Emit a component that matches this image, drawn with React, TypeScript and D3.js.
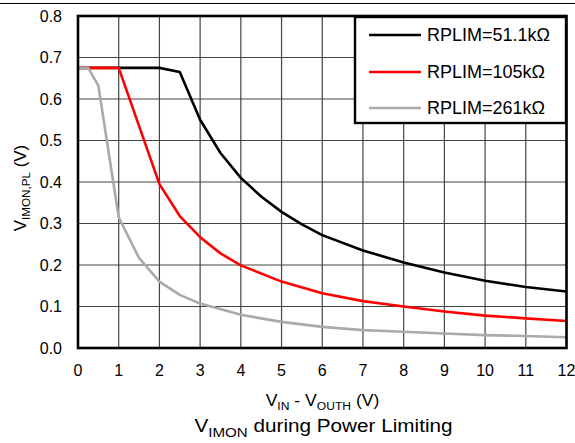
import React from "react";
import * as d3 from "d3";

const xTicks = [0, 1, 2, 3, 4, 5, 6, 7, 8, 9, 10, 11, 12];
const yTicks = [0, 0.1, 0.2, 0.3, 0.4, 0.5, 0.6, 0.7, 0.8];

const blackX = [0, 0.5, 1, 1.5, 2, 2.5, 3, 3.5, 4, 4.5, 5, 5.5, 6, 7, 8, 9, 10, 11, 12];
const blackV = [0.675, 0.675, 0.675, 0.675, 0.675, 0.665, 0.55, 0.47, 0.41, 0.365, 0.328, 0.298, 0.272, 0.235, 0.206, 0.182, 0.162, 0.147, 0.136];

const redX = [0, 0.5, 1, 2, 2.5, 3, 3.5, 4, 5, 6, 7, 8, 9, 10, 11, 12];
const redV = [0.675, 0.675, 0.675, 0.395, 0.318, 0.267, 0.228, 0.199, 0.16, 0.132, 0.113, 0.1, 0.088, 0.078, 0.0715, 0.065];

const grayX = [0, 0.25, 0.5, 1, 1.5, 2, 2.5, 3, 4, 5, 6, 7, 8, 9, 10, 11, 12];
const grayV = [0.675, 0.675, 0.632, 0.315, 0.217, 0.16, 0.128, 0.107, 0.08, 0.063, 0.051, 0.043, 0.039, 0.035, 0.031, 0.029, 0.026];

const seriesNames = ["RPLIM=51.1kΩ", "RPLIM=105kΩ", "RPLIM=261kΩ"];
const seriesColors = ["#000000", "#ff0000", "#aaaaaa"];

export default function App() {
  const W = 575, H = 443;
  const left = 78, right = 566.5, top = 16, bottom = 348;
  const x = d3.scaleLinear().domain([0, 12]).range([left, right]);
  const y = d3.scaleLinear().domain([0, 0.8]).range([bottom, top]);
  const line = d3.line<[number, number]>().x(d => x(d[0])).y(d => y(d[1]));
  const series = [
    blackX.map((v, i) => [v, blackV[i]] as [number, number]),
    redX.map((v, i) => [v, redV[i]] as [number, number]),
    grayX.map((v, i) => [v, grayV[i]] as [number, number]),
  ];
  const font = "'Liberation Sans', Arial, sans-serif";
  const legX = 355, legY = 17, legW = 211, legH = 106;
  const rowYs = [35, 72, 108];

  return (
    <svg width={W} height={H} style={{ position: "absolute", left: 0, top: 0, background: "#fff" }} fontFamily={font}>
      <rect x={0} y={0} width={W} height={H} fill="#fff" />
      <line x1={0} x2={W} y1={3.5} y2={3.5} stroke="#000" strokeWidth={1} />
      {/* grid */}
      {xTicks.map(t => (
        <line key={"gx" + t} x1={x(t)} x2={x(t)} y1={top} y2={bottom} stroke="#444" strokeWidth={1.2} />
      ))}
      {yTicks.map(t => (
        <line key={"gy" + t} x1={left} x2={right} y1={y(t)} y2={y(t)} stroke="#444" strokeWidth={1.2} />
      ))}
      {/* curves */}
      {series.map((s, i) => (
        <path key={"s" + i} d={line(s) || ""} fill="none" stroke={seriesColors[i]} strokeWidth={2.6} strokeLinejoin="round" />
      ))}
      {/* frame */}
      <rect x={left} y={top} width={right - left} height={bottom - top} fill="none" stroke="#000" strokeWidth={2.6} />
      {/* y tick labels */}
      {yTicks.map(t => (
        <text key={"ty" + t} x={62} y={y(t)} dy="0.36em" textAnchor="end" fontSize={16} fill="#000">
          {t.toFixed(1)}
        </text>
      ))}
      {/* x tick labels */}
      {xTicks.map(t => (
        <text key={"tx" + t} x={x(t)} y={376} textAnchor="middle" fontSize={16} fill="#000">
          {t}
        </text>
      ))}
      {/* x axis title */}
      <g transform={`translate(${322.5}, 406) scale(1.1, 1)`}>
        <text x={0} y={0} textAnchor="middle" fontSize={16} fill="#000">
          V<tspan fontSize={11} dy={4}>IN</tspan>
          <tspan dy={-4}> - V</tspan>
          <tspan fontSize={11} dy={4}>OUTH</tspan>
          <tspan dy={-4}> (V)</tspan>
        </text>
      </g>
      {/* y axis title */}
      <g transform={`translate(26, ${188}) rotate(-90) scale(1.06, 1)`}>
        <text x={0} y={0} textAnchor="middle" fontSize={16} fill="#000">
          V<tspan fontSize={11} dy={4}>IMON,PL</tspan>
          <tspan dy={-4}> (V)</tspan>
        </text>
      </g>
      {/* chart title */}
      <g transform={`translate(${323.5}, 432) scale(1.12, 1)`}>
        <text x={0} y={0} textAnchor="middle" fontSize={18.5} fill="#000">
          V<tspan fontSize={13.5} dy={4.5}>IMON</tspan>
          <tspan dy={-4.5}> during Power Limiting</tspan>
        </text>
      </g>
      {/* legend */}
      <rect x={legX} y={legY} width={legW} height={legH} fill="#fff" stroke="#000" strokeWidth={2.4} />
      {seriesNames.map((n, i) => (
        <g key={"l" + i}>
          <line x1={369} x2={421} y1={rowYs[i]} y2={rowYs[i]} stroke={seriesColors[i]} strokeWidth={2.6} />
          <text x={427} y={rowYs[i]} dy="0.36em" fontSize={18} fill="#000">{n}</text>
        </g>
      ))}
    </svg>
  );
}
